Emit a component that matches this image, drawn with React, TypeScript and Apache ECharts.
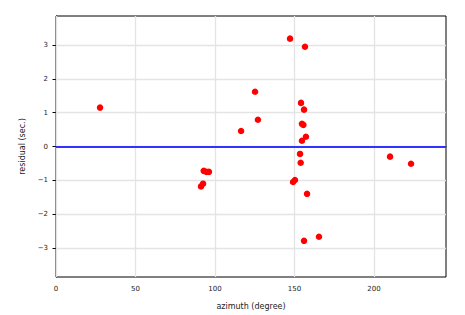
import React, { useEffect, useRef } from "react";
import * as echarts from "echarts";

const azimuth = [27.7, 147.2, 156.6, 125.2, 154.1, 156.0, 127.0, 116.4, 154.7, 155.6, 157.2, 154.7, 153.5, 210.1, 153.9, 223.3, 92.9, 94.6, 96.2, 92.5, 91.2, 150.3, 149.1, 157.9, 165.4, 156.0];
const residual = [1.15, 3.19, 2.95, 1.62, 1.29, 1.09, 0.79, 0.46, 0.67, 0.64, 0.29, 0.17, -0.22, -0.30, -0.48, -0.51, -0.72, -0.75, -0.75, -1.10, -1.18, -0.99, -1.05, -1.40, -2.67, -2.79];
const xTicks = [0, 50, 100, 150, 200];
const yTicks = [-3, -2, -1, 0, 1, 2, 3];
const baseline = 0;

export default function App() {
  const ref = useRef<HTMLDivElement>(null);
  useEffect(() => {
    const chart = echarts.init(ref.current!, null, { renderer: "svg" });
    const font = "DejaVu Sans";
    const gridStyle = { color: "#e4e4e4", width: 1.3, type: "solid" as const };
    chart.setOption({
      animation: false,
      grid: {
        left: 56, right: 19, top: 16, bottom: 38,
        show: true, borderColor: "#000", borderWidth: 1, backgroundColor: "transparent",
      },
      xAxis: {
        type: "value", min: 0, max: 245.3,
        name: "azimuth (degree)", nameLocation: "middle", nameGap: 25,
        nameTextStyle: { fontFamily: font, fontSize: 8, color: "#222" },
        axisLine: { show: true, lineStyle: { color: "#000", width: 1 } },
        axisTick: { show: true, length: 3.5, lineStyle: { color: "#000" }, customValues: xTicks },
        axisLabel: { fontFamily: font, fontSize: 7, color: "#222", margin: 8, customValues: xTicks },
        splitLine: { show: false },
      },
      yAxis: {
        type: "value", min: -3.86, max: 3.86,
        name: "residual (sec.)", nameLocation: "middle", nameGap: 30,
        nameTextStyle: { fontFamily: font, fontSize: 8, color: "#222" },
        axisLine: { show: true, lineStyle: { color: "#000", width: 1 } },
        axisTick: { show: true, length: 3.5, lineStyle: { color: "#000" }, customValues: yTicks },
        axisLabel: {
          fontFamily: font, fontSize: 7, color: "#222", margin: 8, customValues: yTicks,
          formatter: (v: number) => (v < 0 ? "\u2212" + Math.abs(v) : String(v)),
        },
        splitLine: { show: false },
      },
      series: [
        {
          type: "scatter",
          data: [],
          silent: true,
          z: 1,
          markLine: {
            silent: true, symbol: "none", label: { show: false }, animation: false, z: 1,
            lineStyle: gridStyle,
            data: [
              ...xTicks.map((v) => ({ xAxis: v })),
              ...yTicks.map((v) => ({ yAxis: v })),
            ],
          },
        },
        {
          type: "scatter",
          data: [],
          silent: true,
          z: 2,
          markLine: {
            silent: true, symbol: "none", label: { show: false }, animation: false, z: 2,
            lineStyle: { color: "#3333ff", width: 2, type: "solid" },
            data: [{ yAxis: baseline }],
          },
        },
        {
          type: "scatter",
          data: azimuth.map((x, i) => [x, residual[i]]),
          symbol: "circle",
          symbolSize: 6.5,
          itemStyle: { color: "#ff0000", opacity: 1 },
          z: 10,
        },
      ],
    });
    return () => chart.dispose();
  }, []);
  return <div ref={ref} style={{ width: 465, height: 315, position: "absolute", left: 0, top: 0, background: "#fff" }} />;
}
